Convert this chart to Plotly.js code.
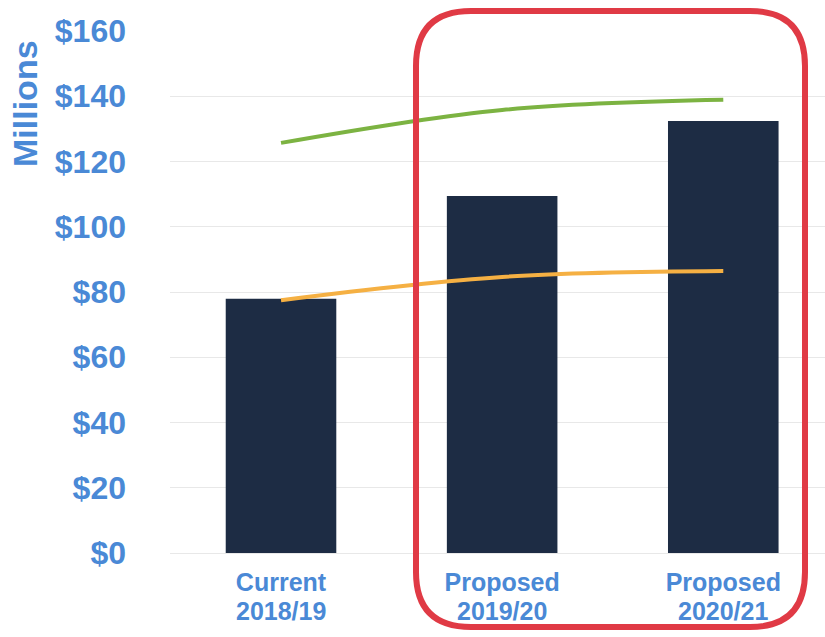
<!DOCTYPE html>
<html>
<head>
<meta charset="utf-8">
<script src="https://cdn.plot.ly/plotly-3.0.1.min.js"></script>
<style>html,body{margin:0;padding:0;background:#fff;}#chart{width:825px;height:637px;}</style>
</head>
<body>
<div id="chart"></div>
<script>
// Data
const categoryNames = ["Current", "Proposed", "Proposed"];
const categoryYears = ["2018/19", "2019/20", "2020/21"];
const barValues = [77.9, 109.4, 132.4];
const greenValues = [125.7, 135.8, 138.9];
const orangeValues = [77.5, 84.6, 86.4];
const yTickVals = [0, 20, 40, 60, 80, 100, 120, 140, 160];
const yTickText = ["$0", "$20", "$40", "$60", "$80", "$100", "$120", "$140", "$160"];

const W = 825, H = 637;
const M = {l: 170, r: 0, t: 31, b: 84};
const plotW = W - M.l - M.r, plotH = H - M.t - M.b;
function px(x) { return (x - M.l) / plotW; }
function py(y) { return (H - M.b - y) / plotH; }
function roundRect(x0, y0, x1, y1, r) {
  const P = (x, y) => px(x).toFixed(5) + "," + py(y).toFixed(5);
  return "M" + P(x0 + r, y0) + " L" + P(x1 - r, y0) +
    " Q" + P(x1, y0) + " " + P(x1, y0 + r) +
    " L" + P(x1, y1 - r) +
    " Q" + P(x1, y1) + " " + P(x1 - r, y1) +
    " L" + P(x0 + r, y1) +
    " Q" + P(x0, y1) + " " + P(x0, y1 - r) +
    " L" + P(x0, y0 + r) +
    " Q" + P(x0, y0) + " " + P(x0 + r, y0) + " Z";
}

const xIdx = categoryNames.map((c, i) => i);
const blue = "#4a89d6";
const font = "Liberation Sans, Arial, sans-serif";

const traces = [
  {type: "bar", x: xIdx, y: barValues, width: 0.5, marker: {color: "#1d2c44"}, hoverinfo: "skip"},
  {type: "scatter", mode: "lines", x: xIdx, y: greenValues, line: {color: "#7cb342", width: 4, shape: "spline"}, hoverinfo: "skip"},
  {type: "scatter", mode: "lines", x: xIdx, y: orangeValues, line: {color: "#f5b043", width: 4, shape: "spline"}, hoverinfo: "skip"}
];

const yearAnnotations = categoryYears.map((t, i) => ({
  text: "<b>" + t + "</b>", xref: "x", yref: "paper",
  x: xIdx[i], y: py(611), xanchor: "center", yanchor: "middle",
  showarrow: false, font: {family: font, size: 25, color: blue}
}));

const layout = {
  width: W, height: H,
  margin: M,
  paper_bgcolor: "#ffffff", plot_bgcolor: "#ffffff",
  showlegend: false,
  font: {family: font},
  xaxis: {
    range: [-0.502, 2.46],
    tickvals: xIdx, ticktext: categoryNames,
    tickfont: {family: font, size: 25, color: blue, weight: "bold"},
    showgrid: false, zeroline: false, showline: false, ticks: "",
    ticklabelstandoff: 12
  },
  yaxis: {
    range: [0, 160],
    tickvals: yTickVals, ticktext: yTickText,
    tickfont: {family: font, size: 32, color: blue, weight: "bold"},
    showgrid: true, gridcolor: "#e8e8e8", gridwidth: 1,
    zeroline: true, zerolinecolor: "#e8e8e8", zerolinewidth: 1,
    showline: false, ticks: "",
    ticklabelstandoff: 43
  },
  annotations: [{
    text: "<b>Millions</b>", xref: "paper", yref: "paper",
    x: px(25), y: py(104), xanchor: "center", yanchor: "middle",
    textangle: -90, showarrow: false,
    font: {family: font, size: 34, color: blue}
  }].concat(yearAnnotations),
  shapes: [{
    type: "path", xref: "paper", yref: "paper",
    path: roundRect(416, 11, 805, 627, 55),
    line: {color: "#e03a45", width: 6},
    fillcolor: "rgba(0,0,0,0)"
  }]
};

Plotly.newPlot("chart", traces, layout, {displayModeBar: false, staticPlot: true});
</script>
</body>
</html>
